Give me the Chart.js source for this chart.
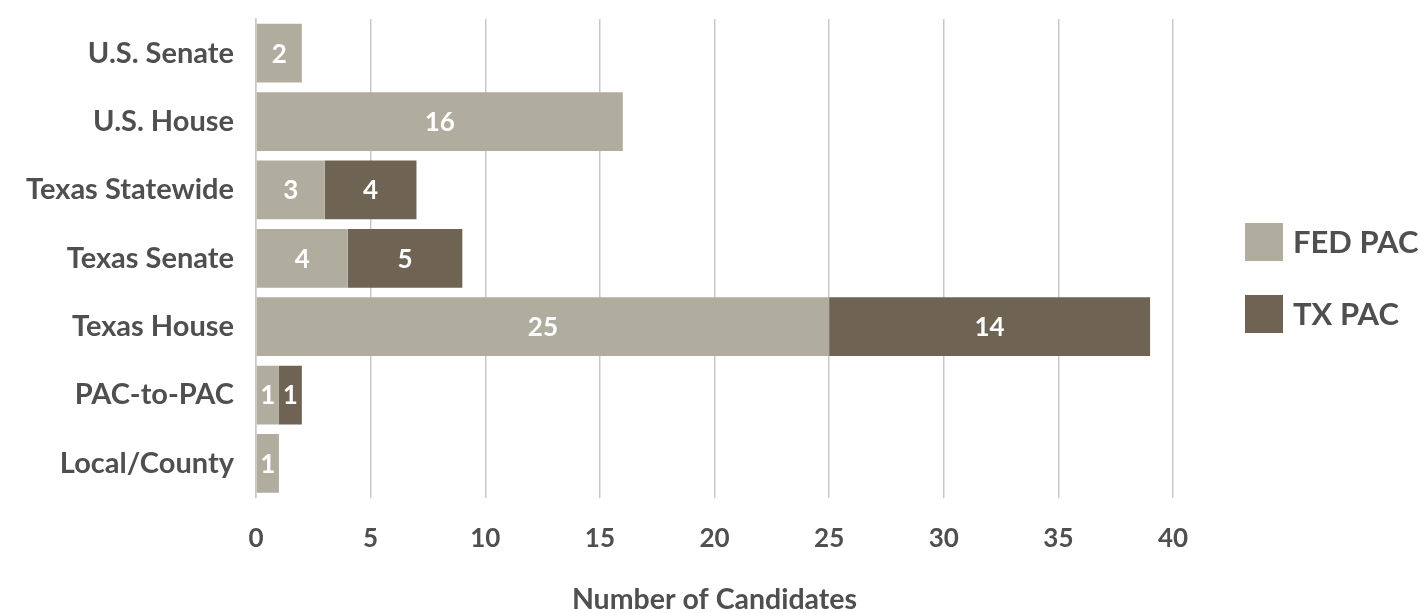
<!DOCTYPE html>
<html>
<head>
<meta charset="utf-8">
<script src="https://cdn.jsdelivr.net/npm/chart.js@4.4.1/dist/chart.umd.min.js"></script>
<style>
  html, body { margin: 0; padding: 0; background: #fff; }
  #wrap { width: 1424px; height: 613px; position: relative; }
</style>
</head>
<body>
<div id="wrap"><canvas id="pacChart"></canvas></div>
<script>
// --- Data ---
const categories = ['U.S. Senate', 'U.S. House', 'Texas Statewide', 'Texas Senate', 'Texas House', 'PAC-to-PAC', 'Local/County'];
const fedPac = [2, 16, 3, 4, 25, 1, 1];
const txPac = [0, 0, 4, 5, 14, 1, 0];
const xTicks = [0, 5, 10, 15, 20, 25, 30, 35, 40];

const FONT = 'Lato';
const TEXT = '#4f4f4f';

// white value labels inside each segment
const valueLabels = {
    id: 'valueLabels',
    afterDatasetsDraw(chart) {
        const ctx = chart.ctx;
        ctx.save();
        ctx.fillStyle = '#ffffff';
        ctx.font = 'bold 26px ' + FONT;
        ctx.textAlign = 'center';
        ctx.textBaseline = 'middle';
        chart.data.datasets.forEach((ds, i) => {
            chart.getDatasetMeta(i).data.forEach((bar, j) => {
                const v = ds.data[j];
                if (!v) return;
                const p = bar.getProps(['x', 'y', 'base'], true);
                ctx.fillText(String(v), (p.x + p.base) / 2, p.y + 1);
            });
        });
        ctx.restore();
    }
};

// legend drawn on the right, square swatches
const sideLegend = {
    id: 'sideLegend',
    afterDraw(chart) {
        const ctx = chart.ctx;
        ctx.save();
        ctx.font = 'bold 31px ' + FONT;
        ctx.textBaseline = 'middle';
        ctx.textAlign = 'left';
        chart.data.datasets.forEach((ds, i) => {
            const y = 223 + i * 72;
            ctx.fillStyle = ds.backgroundColor;
            ctx.fillRect(1245, y, 38, 38);
            ctx.fillStyle = TEXT;
            ctx.fillText(ds.label, 1293, y + 20);
        });
        ctx.restore();
    }
};

const ctxPac = document.getElementById('pacChart').getContext('2d');
new Chart(ctxPac, {
    type: 'bar',
    data: {
        labels: categories,
        datasets: [
            {
                label: 'FED PAC',
                data: fedPac,
                backgroundColor: '#b0ad9f',
                barPercentage: 0.86,
                categoryPercentage: 1
            },
            {
                label: 'TX PAC',
                data: txPac,
                backgroundColor: '#6f6354',
                barPercentage: 0.86,
                categoryPercentage: 1
            }
        ]
    },
    options: {
        indexAxis: 'y',
        responsive: true,
        maintainAspectRatio: false,
        animation: false,
        layout: { padding: { top: 19, right: 251, left: 0, bottom: 0 } },
        plugins: {
            legend: { display: false },
            tooltip: { enabled: false }
        },
        scales: {
            x: {
                stacked: true,
                min: 0,
                max: 40,
                afterBuildTicks: (axis) => { axis.ticks = xTicks.map(v => ({ value: v })); },
                grid: { color: '#c9c9cc', lineWidth: 1.5, drawTicks: false },
                border: { display: false },
                ticks: { color: TEXT, padding: 25, font: { family: FONT, size: 26, weight: 'bold' } },
                title: {
                    display: true,
                    text: 'Number of Candidates',
                    color: TEXT,
                    padding: { top: 8.5, bottom: 0 },
                    font: { family: FONT, size: 28.5, weight: 'bold', lineHeight: 0.9 }
                }
            },
            y: {
                stacked: true,
                grid: { display: false, drawTicks: false },
                border: { display: true, color: '#c9c9cc', width: 1.5 },
                ticks: { color: TEXT, padding: 22, font: { family: FONT, size: 29, weight: 'bold' } },
                afterFit: (axis) => {
                    axis.width = 256;
                    axis.paddingTop = 0;
                    axis.paddingBottom = 0;
                }
            }
        }
    },
    plugins: [valueLabels, sideLegend]
});
</script>
</body>
</html>
